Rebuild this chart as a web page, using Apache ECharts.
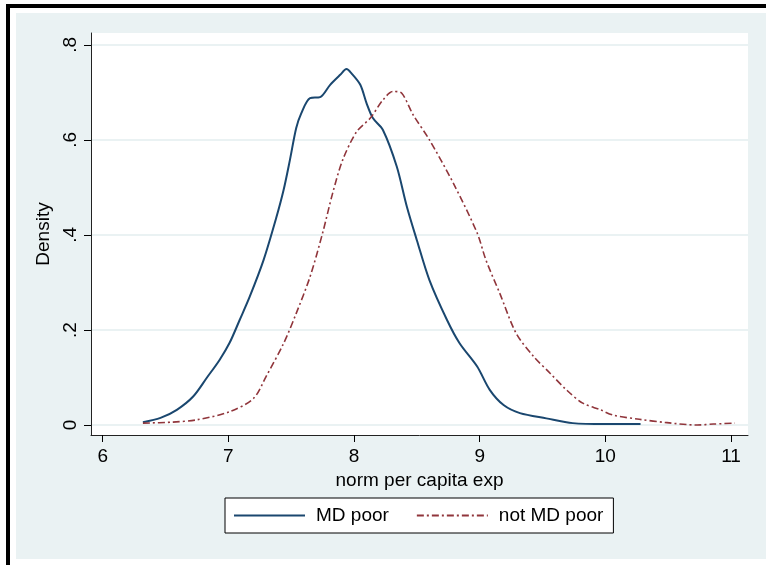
<!DOCTYPE html>
<html>
<head>
<meta charset="utf-8">
<script src="https://cdn.jsdelivr.net/npm/echarts@6/dist/echarts.min.js"></script>
<style>html,body{margin:0;padding:0;background:#fff;}#c{width:766px;height:565px;}</style>
</head>
<body>
<div id="c"></div>
<script>
// ---- data ----
const seriesNames = ['MD poor', 'not MD poor'];
const mdPoorX = [6.32,6.46,6.59,6.72,6.83,6.93,7.01,7.09,7.17,7.28,7.38,7.44,7.49,7.54,7.58,7.65,7.73,7.81,7.89,7.94,7.98,8.05,8.10,8.15,8.23,8.34,8.42,8.50,8.60,8.74,8.84,8.98,9.08,9.19,9.32,9.53,9.74,10.0,10.28];
const mdPoorY = [0.006,0.015,0.032,0.060,0.100,0.137,0.173,0.221,0.270,0.347,0.435,0.495,0.558,0.625,0.656,0.688,0.690,0.716,0.737,0.749,0.740,0.716,0.677,0.646,0.621,0.544,0.460,0.389,0.305,0.221,0.172,0.123,0.074,0.042,0.025,0.014,0.004,0.002,0.002];
const notMdPoorX = [6.32,6.55,6.75,7.01,7.20,7.30,7.44,7.54,7.65,7.75,7.83,7.91,8.02,8.13,8.23,8.31,8.38,8.47,8.60,8.79,8.98,9.05,9.16,9.29,9.43,9.56,9.69,9.82,9.96,10.06,10.27,10.49,10.73,10.86,11.03];
const notMdPoorY = [0.004,0.006,0.011,0.028,0.056,0.102,0.172,0.235,0.312,0.404,0.488,0.558,0.617,0.646,0.684,0.702,0.698,0.653,0.600,0.509,0.404,0.347,0.277,0.193,0.144,0.109,0.074,0.046,0.032,0.021,0.012,0.005,0.000,0.002,0.004];
const xTicks = [6,7,8,9,10,11];
const yTicks = [0,0.2,0.4,0.6,0.8];
const xTitle = 'norm per capita exp';
const yTitle = 'Density';

const zip = (xs, ys) => xs.map((x, i) => [x, ys[i]]);
const FONT = '"Liberation Sans", Arial, sans-serif';
const BLUE = '#1a476f', RED = '#90353b', BG = '#eaf2f3';

const chart = echarts.init(document.getElementById('c'), null, {renderer: 'canvas'});
chart.setOption({
  backgroundColor: '#ffffff',
  animation: false,
  graphic: [
    {type: 'rect', z: -100, silent: true, shape: {x: 16, y: 13, width: 750, height: 546}, style: {fill: BG}},
    {type: 'rect', z: -90, silent: true, shape: {x: 6, y: 4, width: 760, height: 4}, style: {fill: '#000'}},
    {type: 'rect', z: -90, silent: true, shape: {x: 6, y: 4, width: 4, height: 561}, style: {fill: '#000'}}
  ],
  grid: {left: 91, top: 33, right: 18, bottom: 130, show: true, backgroundColor: '#ffffff', borderWidth: 0},
  xAxis: {
    type: 'value', min: 5.907, max: 11.135,
    name: xTitle, nameLocation: 'middle', nameGap: 31,
    nameTextStyle: {fontFamily: FONT, fontSize: 19, color: '#000'},
    axisLine: {show: true, onZero: false, lineStyle: {color: '#222', width: 1}},
    axisTick: {show: true, length: 7, customValues: xTicks, lineStyle: {color: '#000', width: 1}},
    axisLabel: {customValues: xTicks, margin: 12, fontFamily: FONT, fontSize: 19, color: '#000'},
    splitLine: {show: false}
  },
  yAxis: {
    type: 'value', min: -0.021, max: 0.825,
    name: yTitle, nameLocation: 'middle', nameGap: 34, nameRotate: 90,
    nameTextStyle: {fontFamily: FONT, fontSize: 19, color: '#000'},
    axisLine: {show: true, onZero: false, lineStyle: {color: '#222', width: 1}},
    axisTick: {show: true, length: 7, customValues: yTicks, lineStyle: {color: '#000', width: 1}},
    axisLabel: {customValues: yTicks, rotate: 90, margin: 11, fontFamily: FONT, fontSize: 19, color: '#000',
      formatter: v => v === 0 ? '0' : String(+v.toFixed(1)).replace(/^0/, '')},
    splitLine: {show: true, lineStyle: {color: BG, width: 2}}
  },
  legend: {
    left: 225, top: 498,
    data: seriesNames,
    orient: 'horizontal',
    borderColor: '#000', borderWidth: 1, backgroundColor: '#fff',
    padding: [8, 10, 8, 8],
    itemWidth: 71, itemHeight: 14, itemGap: 27,
    itemStyle: {opacity: 0, borderWidth: 0},
    textStyle: {fontFamily: FONT, fontSize: 19, color: '#000', padding: [0, 0, 0, 6]}
  },
  series: [
    {name: seriesNames[0], type: 'line', data: zip(mdPoorX, mdPoorY), smooth: 0.3, symbol: 'none',
      lineStyle: {color: BLUE, width: 2}, itemStyle: {color: BLUE}},
    {name: seriesNames[1], type: 'line', data: zip(notMdPoorX, notMdPoorY), smooth: 0.3, symbol: 'none',
      lineStyle: {color: RED, width: 1.6, type: [7, 3, 2, 3]}, itemStyle: {color: RED}}
  ]
});
</script>
</body>
</html>
